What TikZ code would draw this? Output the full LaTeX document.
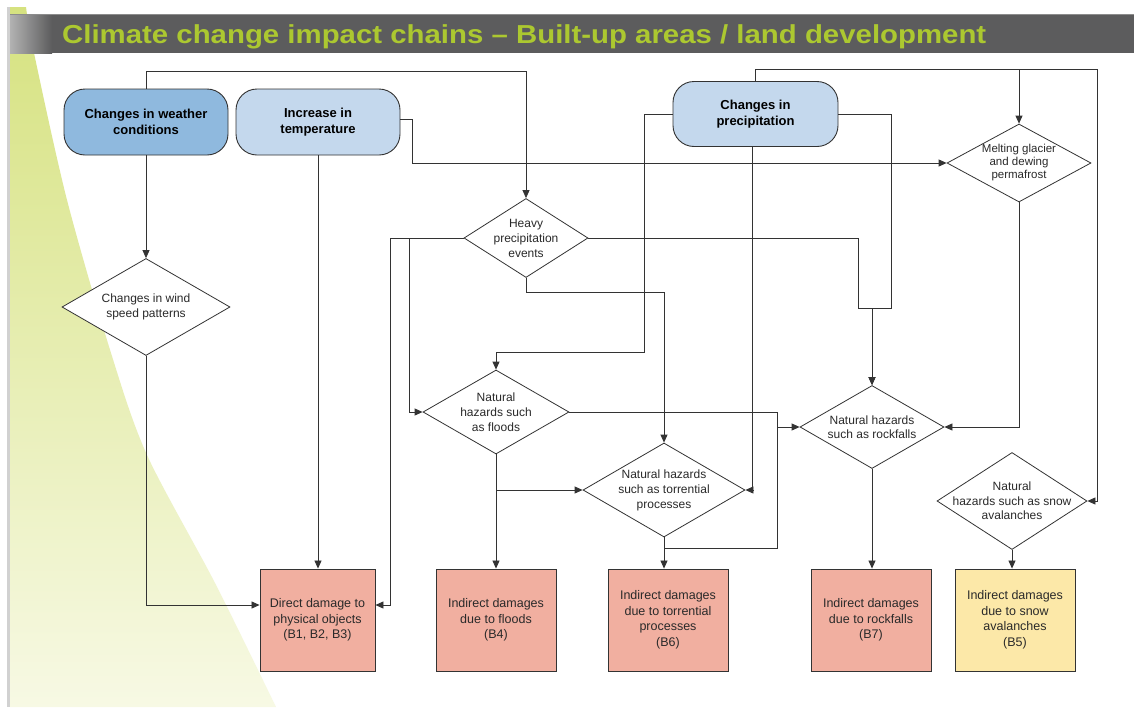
\documentclass[tikz,border=0pt]{standalone}
\usepackage{fontspec}
\setmainfont{Liberation Sans}
\usetikzlibrary{shapes.geometric,arrows.meta,calc}
\definecolor{lineC}{HTML}{333333}
\definecolor{textC}{HTML}{2A2A2A}
\definecolor{barGray}{HTML}{5C5C5D}
\definecolor{titleGreen}{RGB}{172,200,48}
\definecolor{wedgeTop}{RGB}{214,226,128}
\definecolor{wedgeBot}{RGB}{247,249,228}
\definecolor{blueDark}{RGB}{143,185,222}
\definecolor{blueLight}{RGB}{196,216,237}
\definecolor{salmon}{RGB}{241,175,160}
\definecolor{paleYellow}{RGB}{252,232,168}
\begin{document}
\begin{tikzpicture}[x=1pt,y=-1pt,
  rbox/.style={draw=lineC, line width=0.9pt, rounded corners=21pt, minimum width=164pt, minimum height=66pt, align=center, font={\fontsize{13}{15.7}\selectfont\bfseries}, text=black, inner sep=0pt},
  dia/.style={draw=lineC, line width=0.8pt, diamond, inner sep=0pt, fill=white},
  dtext/.style={align=center, font={\fontsize{12}{15}\selectfont}, text=textC, inner sep=0pt},
  dbox/.style={draw=lineC, line width=0.9pt, minimum width=120pt, minimum height=102pt, align=center, font={\fontsize{12.5}{15.5}\selectfont}, text=textC, fill=salmon, inner sep=0pt},
  ln/.style={draw=lineC, line width=0.8pt},
  arr/.style={ln, -{Triangle[length=8pt,width=7pt]}}]
\useasboundingbox (0,0) rectangle (1134,707);
\fill[white] (0,0) rectangle (1134,707);
% background wedge
\shade[top color=wedgeTop, bottom color=wedgeBot] (10,7) -- plot[smooth] coordinates {(26,7) (34,53) (67,200) (111,353) (147,455) (215,583) (276,707)} -- (10,707) -- cycle;
\fill[black!18] (7,7) rectangle (10,707);
% title bar
\fill[barGray] (10,14) rectangle (1134,53);
\shade[left color=black!30, right color=barGray] (10,14) rectangle (52,53);
\draw[black!45, line width=0.8pt] (10,14) -- (1134,14);
\node[anchor=base west, text=titleGreen, font={\fontsize{26}{30}\selectfont\bfseries}, inner sep=0pt] (title) at (62,43) {\scalebox{1.13}[1]{Climate change impact chains – Built-up areas / land development}};

% top rounded boxes
\node[rbox, fill=blueDark] (weather) at (146,122) {Changes in weather\\conditions};
\node[rbox, fill=blueLight] (temp) at (318,122) {Increase in\\temperature};
\node[rbox, fill=blueLight, minimum width=165pt, minimum height=65pt] (precip) at (755.5,114) {Changes in\\precipitation};

% diamonds
\node[dia, minimum width=168pt, minimum height=97pt] (wind) at (146,307) {};
\node[dtext] at (wind) {Changes in wind\\speed patterns};
\node[dia, minimum width=124pt, minimum height=79pt] (heavy) at (526,238) {};
\node[dtext] at (heavy) {Heavy\\precipitation\\events};
\node[dia, minimum width=144pt, minimum height=78pt] (melt) at (1019,163) {};
\node[dtext, font={\fontsize{11.5}{13}\selectfont}] at (melt) {Melting glacier\\and dewing\\permafrost};
\node[dia, minimum width=146pt, minimum height=84pt] (floods) at (496,412) {};
\node[dtext] at (floods) {Natural\\hazards such\\as floods};
\node[dia, minimum width=162pt, minimum height=94pt] (torr) at (664,490) {};
\node[dtext] at (torr) {Natural hazards\\such as torrential\\processes};
\node[dia, minimum width=144pt, minimum height=83pt] (rock) at (872,427) {};
\node[dtext, font={\fontsize{12}{14}\selectfont}] at (rock) {Natural hazards\\such as rockfalls};
\node[dia, minimum width=150pt, minimum height=97pt] (snow) at (1012,501) {};
\node[dtext, font={\fontsize{12}{14.5}\selectfont}] at (snow) {Natural\\hazards such as snow\\avalanches};

% damage boxes
\node[dbox, minimum width=115pt] (direct) at (317.5,620) {Direct damage to\\physical objects\\(B1, B2, B3)};
\node[dbox] (bfour) at (496,620) {Indirect damages\\due to floods\\(B4)};
\node[dbox] (bsix) at (668,620) {Indirect damages\\due to torrential\\processes\\(B6)};
\node[dbox] (bseven) at (871,620) {Indirect damages\\due to rockfalls\\(B7)};
\node[dbox, fill=paleYellow] (bfive) at (1015,620) {Indirect damages\\due to snow\\avalanches\\(B5)};

% helper coordinates
\coordinate (ptop) at (1097,69);
\coordinate (pleft) at (644,352);
\coordinate (pright) at (891,308);
\coordinate (hright) at (858,308);
\coordinate (hx) at (390,238);
\coordinate (hy) at (409,238);
\coordinate (fx) at (777,412);
\coordinate (tb) at (664,548);

% connectors
\draw[arr] (weather.north) -- ++(0,-17) -| (heavy.north);
\draw[arr] (weather.south) -- (wind.north);
\draw[arr] (wind.south) |- ([yshift=15pt]direct.west);
\draw[arr] (temp.south) -- (temp.south |- direct.north);
\draw[arr] ([yshift=3pt]temp.east) -- ++(12,0) |- (melt.west);
\draw[arr] (precip.north) |- (ptop) |- (snow.east);
\draw[arr] (melt.north |- ptop) -- (melt.north);
\draw[arr] (precip.west) -| (pleft) -| (floods.north);
\draw[arr] ([xshift=-3pt]precip.south) |- (torr.east);
\draw[arr] (precip.east) -| (pright) -| (rock.north);
\draw[arr] (heavy.east) -| (hright) -| (rock.north);
\draw[arr] (heavy.west) -- (hx) |- ([yshift=15pt]direct.east);
\draw[arr] (hy) |- (floods.west);
\draw[arr] (heavy.south) -- ++(0,14) -| (torr.north);
\draw[arr] (melt.south) |- (rock.east);
\draw[arr] (rock.south) -- (rock.south |- bseven.north);
\draw[arr] (floods.south) -- (floods.south |- bfour.north);
\draw[arr] (floods.south |- torr.west) -- (torr.west);
\draw[ln] (floods.east) -- (fx) |- (tb);
\draw[arr] (fx |- rock.west) -- (rock.west);
\draw[arr] (torr.south) -- (torr.south |- bsix.north);
\draw[arr] (snow.south) -- (snow.south |- bfive.north);
\end{tikzpicture}
\end{document}
